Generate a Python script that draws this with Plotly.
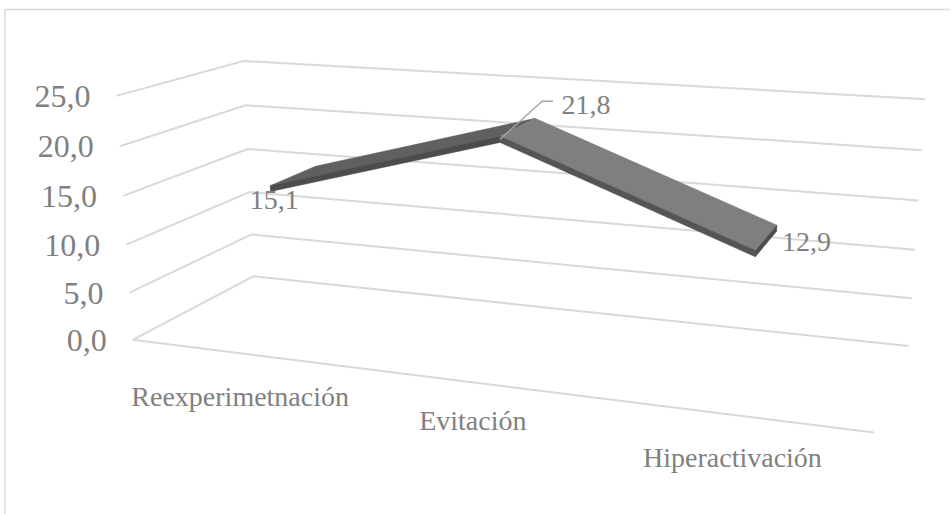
import numpy as np
import plotly.graph_objects as go

# Chart data
categories = ["Reexperimetnación", "Evitación", "Hiperactivación"]
values = [15.1, 21.8, 12.9]
value_labels = ["15,1", "21,8", "12,9"]
axis_ticks = [0, 5, 10, 15, 20, 25]
axis_tick_labels = ["0,0", "5,0", "10,0", "15,0", "20,0", "25,0"]

WIDTH, HEIGHT = 951, 514
GRID = "#d9d9d9"
TEXT = "#808080"
FONT = "Liberation Serif"
N = len(categories)
V_MAX = axis_ticks[-1]

# Camera of the 3-D box: box corners (category, value, depth) and where they land on the page.
box_world = [(0, 0, 0), (0, V_MAX, 0), (0, 0, 1), (0, V_MAX, 1),
             (N, 0, 1), (N, V_MAX, 1), (N, 0, 0)]
box_page = [(133, 340), (116, 96), (253, 276), (244, 61),
            (908.5, 346.5), (925, 99), (874, 432)]


def fit_camera(world, page):
    rows = []
    for (a, b, c), (u, v) in zip(world, page):
        b = b / V_MAX
        rows.append([a, b, c, 1, 0, 0, 0, 0, -u * a, -u * b, -u * c, -u])
        rows.append([0, 0, 0, 0, a, b, c, 1, -v * a, -v * b, -v * c, -v])
    return np.linalg.svd(np.array(rows, dtype=float))[2][-1].reshape(3, 4)


CAMERA = fit_camera(box_world, box_page)


def project(cat, val, depth):
    h = CAMERA @ np.array([cat, val / V_MAX, depth, 1.0])
    return float(h[0] / h[2]), float(h[1] / h[2])


def polyline(points):
    xy = [project(*p) for p in points]
    return [p[0] for p in xy], [p[1] for p in xy]


fig = go.Figure()


def add_line(points, color=GRID, width=2.0):
    x, y = polyline(points)
    fig.add_trace(go.Scatter(x=x, y=y, mode="lines", hoverinfo="skip",
                             line=dict(color=color, width=width)))


def add_face(points, color):
    x, y = polyline(points)
    fig.add_trace(go.Scatter(x=x + x[:1], y=y + y[:1], mode="lines", fill="toself",
                             fillcolor=color, hoverinfo="skip",
                             line=dict(color=color, width=0.5)))


def add_text(x, y, text, size, anchor="middle center"):
    fig.add_trace(go.Scatter(x=[x], y=[y], mode="text", text=[text], hoverinfo="skip",
                             textposition=anchor,
                             textfont=dict(family=FONT, size=size, color=TEXT)))


# Wall gridlines and the front edge of the floor
for tick in axis_ticks:
    add_line([(0, tick, 0), (0, tick, 1), (N, tick, 1)])
add_line([(0, 0, 0), (N, 0, 0)])

# Ribbon of the 3-D line: top surface and front face per segment, then the end cap
FRONT, BACK = 0.3, 0.7
THICK = 0.3
centers = [i + 0.5 for i in range(N)]
top_colors = ["#606060", "#7f7f7f"]
side_colors = ["#4c4c4c", "#555555"]
for i in range(N - 1):
    c0, c1 = centers[i], centers[i + 1]
    v0, v1 = values[i], values[i + 1]
    add_face([(c0, v0 + THICK, FRONT), (c1, v1 + THICK, FRONT),
              (c1, v1 + THICK, BACK), (c0, v0 + THICK, BACK)], top_colors[i])
    add_face([(c0, v0 + THICK, FRONT), (c1, v1 + THICK, FRONT),
              (c1, v1 - THICK, FRONT), (c0, v0 - THICK, FRONT)], side_colors[i])
add_face([(centers[-1], values[-1] + THICK, FRONT), (centers[-1], values[-1] + THICK, BACK),
          (centers[-1], values[-1] - THICK, BACK), (centers[-1], values[-1] - THICK, FRONT)],
         "#4c4c4c")

# Value axis labels sit just left of each gridline's front end
for tick, label in zip(axis_ticks, axis_tick_labels):
    x, y = project(0, tick, 0)
    add_text(x - 26, y + 3, label, 32, "middle left")

# Category labels below the floor
cat_offsets = [(0, 46), (0, 41), (0, 45)]
for center, name, (dx, dy) in zip(centers, categories, cat_offsets):
    x, y = project(center, 0, 0)
    add_text(x + dx, y + dy, name, 28)

# Data labels, with a leader line on the peak
lx, ly = project(centers[1], values[1], FRONT)
fig.add_trace(go.Scatter(x=[lx, lx + 42, lx + 53], y=[ly, ly - 38, ly - 38], mode="lines",
                         hoverinfo="skip", line=dict(color="#a6a6a6", width=1.4)))
label_offsets = [(4, 13), (86, -32), (51, -10)]
for center, val, label, (dx, dy) in zip(centers, values, value_labels, label_offsets):
    x, y = project(center, val, FRONT)
    add_text(x + dx, y + dy, label, 28)

# Chart frame along the top and left
fig.update_layout(
    width=WIDTH, height=HEIGHT, margin=dict(l=0, r=0, t=0, b=0),
    paper_bgcolor="white", plot_bgcolor="white", showlegend=False,
    xaxis=dict(range=[0, WIDTH], visible=False, fixedrange=True),
    yaxis=dict(range=[HEIGHT, 0], visible=False, fixedrange=True),
    shapes=[dict(type="line", x0=5, x1=5, y0=9.5, y1=HEIGHT, line=dict(color=GRID, width=1.4)),
            dict(type="line", x0=5, x1=WIDTH - 1, y0=9.5, y1=9.5, line=dict(color=GRID, width=1.4))],
)
fig.write_html("out.html", config=dict(displayModeBar=False))
